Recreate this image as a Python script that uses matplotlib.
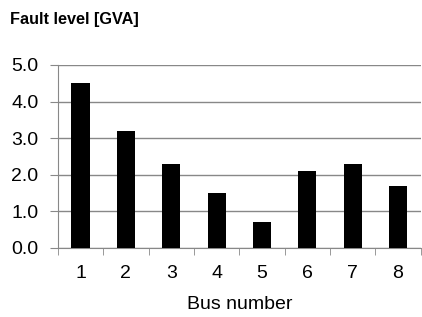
import matplotlib.pyplot as plt
import numpy as np

plt.rcParams['font.family'] = ['Liberation Sans', 'DejaVu Sans']

# Data
buses = ['1', '2', '3', '4', '5', '6', '7', '8']
fault_level = [4.5, 3.2, 2.3, 1.5, 0.7, 2.1, 2.3, 1.7]
yticks = [0.0, 1.0, 2.0, 3.0, 4.0, 5.0]

fig = plt.figure(figsize=(4.22, 3.17), dpi=100)
ax = fig.add_axes([0.137, 0.218, 0.86, 0.577])

x = np.arange(len(buses))
ax.bar(x, fault_level, width=0.4, color='black', zorder=3)

ax.set_xlim(-0.5, len(buses) - 0.5)
ax.set_ylim(0, 5.0)
ax.set_yticks(yticks)
ax.set_yticklabels([f'{v:.1f}' for v in yticks], fontsize=14)
ax.set_xticks(x)
ax.set_xticklabels(buses, fontsize=14)
ax.tick_params(axis='x', length=0, pad=12.5)
ax.tick_params(axis='y', length=6, color='#888888', pad=8)

# category boundary tick marks
ax.set_xticks(np.arange(-0.5, len(buses)), minor=True)
ax.tick_params(axis='x', which='minor', length=5, color='#888888')

ax.grid(axis='y', color='#888888', linewidth=1, zorder=0)
for s in ['top', 'right']:
    ax.spines[s].set_visible(False)
for s in ['left', 'bottom']:
    ax.spines[s].set_color('#888888')

ax.set_xlabel('Bus number', fontsize=14, labelpad=10)
fig.text(0.024, 0.94, 'Fault level [GVA]', fontsize=11.7, fontweight='bold', va='center')

plt.savefig('out.png', dpi=100)
